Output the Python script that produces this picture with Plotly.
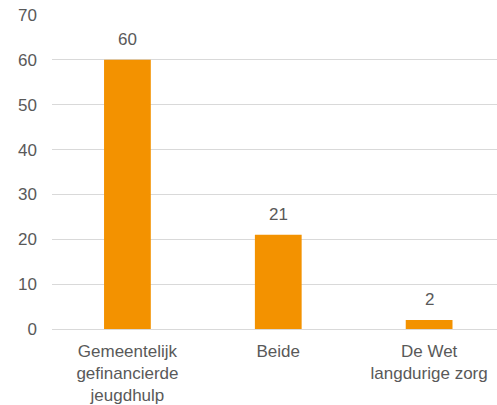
import plotly.graph_objects as go

categories = ["Gemeentelijk<br>gefinancierde<br>jeugdhulp", "Beide", "De Wet<br>langdurige zorg"]
values = [60, 21, 2]
y_ticks = [0, 10, 20, 30, 40, 50, 60, 70]

bar_color = "#F39200"
text_color = "#595959"
grid_color = "#D9D9D9"

fig = go.Figure()
fig.add_trace(go.Bar(
    x=categories,
    y=values,
    marker=dict(color=bar_color, line_width=0),
    width=0.31,
    hoverinfo="skip",
))

# value labels above the bars
for c, v in zip(categories, values):
    fig.add_annotation(
        x=c, y=v, text=str(v), showarrow=False,
        yanchor="bottom", yshift=9,
        font=dict(size=17, color=text_color),
    )

fig.update_layout(
    template="simple_white",
    width=497,
    height=405,
    margin=dict(l=52, r=0, t=15, b=76),
    font=dict(family="Liberation Sans, Arial", size=17, color=text_color),
    showlegend=False,
    plot_bgcolor="white",
    paper_bgcolor="white",
)
fig.update_xaxes(
    range=[-0.5, 2.45],
    showline=False,
    ticks="",
    ticklabelstandoff=10,
    tickfont=dict(size=17, color=text_color),
)
fig.update_yaxes(
    range=[0, 70],
    tickvals=y_ticks,
    showline=False,
    ticks="",
    showgrid=True,
    gridcolor=grid_color,
    gridwidth=1,
    zeroline=True,
    zerolinecolor=grid_color,
    zerolinewidth=1,
    ticklabelstandoff=14,
    tickfont=dict(size=17, color=text_color),
)

fig.write_html(
    "out.html",
    config={"displayModeBar": False},
    post_script="document.body.style.margin='0';",
)
